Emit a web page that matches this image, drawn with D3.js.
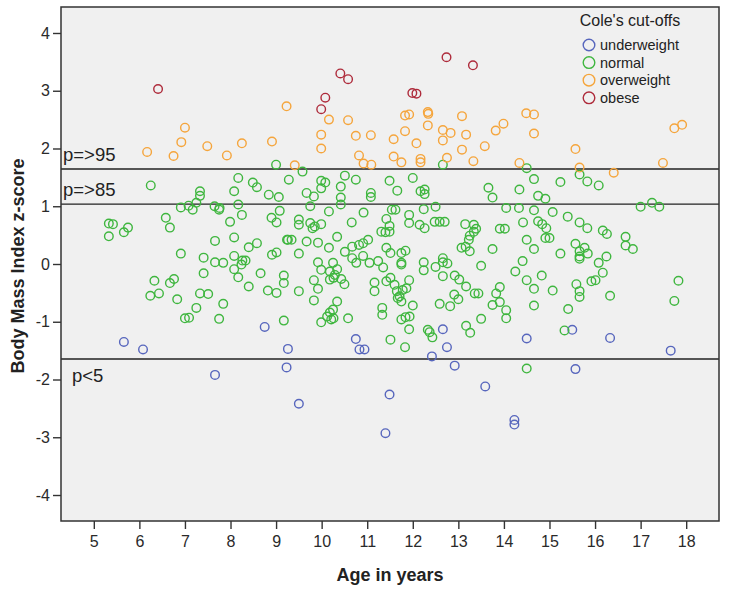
<!DOCTYPE html>
<html>
<head>
<meta charset="utf-8">
<script src="https://cdn.jsdelivr.net/npm/d3@7"></script>
<style>
  body { margin: 0; background: #fff; }
  text { font-family: "Liberation Sans", Arial, sans-serif; }
</style>
</head>
<body>
<svg id="chart"></svg>
<script>
// Cole's cut-off groups, each point is [age in years, BMI z-score]
var categories = ["underweight", "normal", "overweight", "obese"];
var colors = ["#5766bd", "#3fb63f", "#f5a53c", "#ae2b3b"];

var underweight = [
  [8.75,-1.09],[5.66,-1.35],[6.08,-1.48],[9.26,-1.47],[9.23,-1.79],[7.66,-1.92],
  [10.75,-1.30],[10.83,-1.48],[10.94,-1.48],[12.66,-1.13],[12.75,-1.44],[12.42,-1.60],
  [12.92,-1.76],[13.59,-2.12],[9.50,-2.42],[11.49,-2.26],[11.40,-2.93],[14.23,-2.70],
  [14.23,-2.78],[15.50,-1.14],[14.50,-1.29],[16.33,-1.28],[17.66,-1.50],[15.57,-1.82]
];

var normal = [
  [9.00,1.72],[6.25,1.36],[8.17,1.49],[8.49,1.41],[8.58,1.33],[8.08,1.26],[7.33,1.26],[7.33,1.18],
  [8.84,1.20],[9.06,1.16],[9.28,1.46],[12.66,1.72],[9.58,1.60],[9.99,1.44],[10.08,1.41],[10.51,1.53],
  [10.75,1.46],[9.99,1.31],[10.42,1.34],[9.67,1.23],[9.83,1.17],[10.42,1.15],[11.08,1.23],[11.08,1.16],
  [11.49,1.44],[11.66,1.27],[12.00,1.49],[12.17,1.26],[12.26,1.29],[12.26,1.21],[13.66,1.32],[13.75,1.15],
  [14.50,1.66],[14.66,1.47],[15.24,1.42],[15.66,1.55],[15.83,1.43],[16.08,1.36],[14.34,1.29],[14.75,1.18],
  [14.91,1.13],[8.17,1.03],[6.91,0.98],[7.08,1.01],[7.17,0.94],[7.25,1.06],[7.65,1.00],[7.75,0.94],
  [7.76,0.97],[8.25,0.85],[9.08,0.92],[8.90,0.80],[9.01,0.72],[5.33,0.70],[5.42,0.69],[5.33,0.48],
  [5.66,0.55],[5.75,0.63],[6.58,0.80],[6.67,0.63],[7.99,0.73],[8.08,0.46],[7.66,0.40],[8.58,0.36],
  [8.40,0.29],[9.26,0.42],[6.91,0.18],[7.41,0.11],[7.66,0.03],[7.84,0.02],[8.08,0.14],[8.26,0.06],
  [8.33,0.06],[8.24,-0.01],[8.08,-0.09],[8.17,-0.23],[8.91,0.16],[9.01,0.20],[7.41,-0.16],[8.66,-0.16],
  [9.17,-0.20],[9.17,-0.33],[6.33,-0.29],[6.67,-0.33],[6.76,-0.26],[6.24,-0.55],[6.43,-0.51],[6.83,-0.61],
  [7.33,-0.51],[7.51,-0.52],[8.40,-0.39],[8.82,-0.46],[9.01,-0.50],[7.84,-0.69],[7.25,-0.76],[7.00,-0.94],
  [7.09,-0.93],[7.75,-0.95],[9.17,-0.98],[10.42,1.03],[9.75,1.00],[10.16,0.91],[10.92,0.89],[11.54,0.94],
  [11.62,0.94],[11.92,0.85],[12.24,0.95],[12.50,0.99],[14.05,0.97],[9.50,0.77],[9.50,0.68],[9.75,0.71],
  [9.80,0.62],[9.85,0.65],[9.99,0.69],[10.66,0.72],[11.42,0.78],[11.49,0.66],[11.92,0.71],[12.15,0.68],
  [12.26,0.62],[12.48,0.73],[12.59,0.73],[12.70,0.73],[11.31,0.56],[11.40,0.55],[11.49,0.56],[13.15,0.69],
  [13.34,0.68],[13.39,0.61],[13.34,0.56],[13.25,0.49],[13.23,0.42],[13.91,0.61],[14.02,0.61],[9.24,0.42],
  [9.34,0.42],[9.67,0.39],[9.92,0.37],[10.34,0.47],[10.16,0.28],[9.50,0.18],[10.51,0.21],[10.67,0.30],
  [10.82,0.33],[10.91,0.36],[11.02,0.42],[10.67,0.10],[10.76,0.02],[10.91,0.14],[11.42,0.28],[11.51,0.19],
  [11.75,0.19],[11.84,0.23],[11.75,0.02],[11.75,-0.01],[13.07,0.28],[13.16,0.30],[13.25,0.22],[13.75,0.26],
  [9.92,0.03],[10.25,0.02],[10.34,-0.09],[10.29,-0.19],[10.18,-0.13],[9.99,-0.10],[10.18,-0.27],[10.26,-0.24],
  [10.43,-0.26],[10.50,-0.35],[11.05,0.02],[11.24,0.05],[11.35,-0.06],[12.24,0.03],[12.24,-0.11],[12.50,-0.05],
  [12.66,0.10],[12.66,0.03],[12.76,0.01],[12.66,-0.21],[12.92,-0.20],[13.02,-0.27],[13.17,-0.39],[13.50,-0.03],
  [9.50,-0.47],[9.83,-0.28],[9.92,-0.43],[9.83,-0.63],[11.16,-0.32],[11.16,-0.47],[11.42,-0.30],[11.51,-0.24],
  [11.60,-0.36],[11.65,-0.47],[11.71,-0.56],[11.67,-0.59],[11.78,-0.45],[11.86,-0.42],[11.92,-0.28],[11.75,-0.65],
  [12.00,-0.72],[11.33,-0.76],[11.33,-0.88],[12.59,-0.69],[12.82,-0.73],[12.91,-0.53],[13.00,-0.61],[13.36,-0.51],
  [13.44,-0.51],[13.91,-0.40],[13.83,-0.51],[13.91,-0.66],[13.75,-0.71],[14.05,-0.80],[14.05,-0.94],[10.34,-0.65],
  [10.25,-0.79],[10.18,-0.84],[10.12,-0.91],[10.21,-0.96],[10.26,-0.94],[9.99,-1.01],[10.58,-0.94],[11.75,-0.96],
  [11.84,-0.92],[11.93,-0.91],[11.92,-1.13],[12.33,-1.14],[12.37,-1.18],[12.43,-1.27],[11.51,-1.31],[11.83,-1.44],
  [13.17,-1.07],[13.26,-1.19],[13.50,-0.95],[14.33,0.97],[14.66,0.93],[15.07,0.90],[17.00,0.99],[17.25,1.06],
  [17.41,0.99],[15.40,0.82],[14.42,0.72],[14.75,0.74],[14.84,0.69],[14.93,0.62],[14.91,0.45],[15.00,0.45],
  [15.66,0.72],[15.83,0.62],[16.17,0.58],[16.26,0.52],[16.67,0.47],[16.67,0.32],[16.83,0.26],[14.50,0.42],
  [14.66,0.26],[15.57,0.35],[15.66,0.22],[15.77,0.28],[15.84,0.18],[15.66,0.13],[15.66,0.09],[15.24,0.18],
  [16.25,0.13],[16.08,0.02],[16.17,-0.15],[14.41,0.05],[14.25,-0.13],[14.83,-0.20],[14.50,-0.28],[14.66,-0.43],
  [15.07,-0.46],[15.59,-0.35],[15.66,-0.47],[15.66,-0.57],[15.92,-0.30],[16.01,-0.28],[16.33,-0.55],[17.83,-0.29],
  [17.74,-0.64],[14.66,-0.72],[15.41,-0.78],[15.33,-1.15],[14.50,-1.81]
];

var overweight = [
  [9.23,2.73],[7.00,2.36],[6.92,2.11],[7.49,2.04],[8.25,2.09],[8.91,2.12],[6.17,1.94],[6.75,1.87],
  [7.92,1.88],[10.16,2.50],[10.58,2.49],[11.83,2.57],[11.92,2.59],[12.33,2.63],[12.34,2.60],[13.08,2.56],
  [13.99,2.43],[12.33,2.40],[9.99,2.24],[10.75,2.22],[11.08,2.23],[11.83,2.30],[12.66,2.32],[12.83,2.27],
  [13.17,2.24],[13.82,2.31],[11.58,2.16],[12.08,2.09],[12.66,2.14],[13.58,2.04],[9.99,2.00],[13.08,1.98],
  [10.82,1.88],[10.92,1.74],[11.09,1.72],[11.58,1.86],[11.75,1.76],[12.17,1.82],[12.17,1.76],[12.75,1.84],
  [13.33,1.78],[9.41,1.71],[14.49,2.61],[14.66,2.59],[14.66,2.26],[15.57,1.99],[14.34,1.75],[15.66,1.67],
  [16.41,1.58],[17.49,1.75],[17.74,2.35],[17.91,2.41]
];

var obese = [
  [6.41,3.03],[12.74,3.58],[13.32,3.44],[10.41,3.30],[10.58,3.20],[10.08,2.88],[9.99,2.68],
  [11.99,2.96],[12.08,2.95]
];

var groups = [underweight, normal, overweight, obese];

var xTicks = [5,6,7,8,9,10,11,12,13,14,15,16,17,18];
var yTicks = [-4,-3,-2,-1,0,1,2,3,4];

// percentile reference lines of the z-score
var cutZ = [1.645, 1.036, -1.645];
var cutLabels = ["p=>95", "p=>85", "p<5"];

var width = 729, height = 593;
var plot = {left: 61, top: 7, right: 719, bottom: 521};

var svg = d3.select("#chart")
            .attr("width", width)
            .attr("height", height);

var x = d3.scaleLinear()
          .domain([4.28, 18.72])
          .range([plot.left, plot.right]);

var y = d3.scaleLinear()
          .domain([-4.45, 4.45])
          .range([plot.bottom, plot.top]);

svg.append("rect")
   .attr("x", plot.left)
   .attr("y", plot.top)
   .attr("width", plot.right - plot.left)
   .attr("height", plot.bottom - plot.top)
   .attr("fill", "#f0f0f0");

var xAxis = svg.append("g")
               .attr("transform", "translate(0," + plot.bottom + ")")
               .call(d3.axisBottom(x).tickValues(xTicks).tickSize(8).tickPadding(7));

// plain hyphen for negative labels, as in the original
var yAxis = svg.append("g")
               .attr("transform", "translate(" + plot.left + ",0)")
               .call(d3.axisLeft(y).tickValues(yTicks).tickSize(8).tickPadding(3)
                       .tickFormat(function(d){ return String(d); }));

[xAxis, yAxis].forEach(function(ax){
  ax.select(".domain").remove();
  ax.selectAll(".tick line").attr("stroke", "#333").attr("stroke-width", 1.4);
  ax.selectAll(".tick text")
    .attr("fill", "#2a2a2a")
    .style("font-size", "16px")
    .style("font-family", "'Liberation Sans', Arial, sans-serif");
});

// reference lines
svg.append("g")
   .selectAll("line")
   .data(cutZ)
   .enter()
   .append("line")
   .attr("x1", plot.left)
   .attr("x2", plot.right)
   .attr("y1", function(d){ return y(d); })
   .attr("y2", function(d){ return y(d); })
   .attr("stroke", "#222")
   .attr("stroke-width", 1.3);

svg.append("g")
   .selectAll("text")
   .data(cutZ)
   .enter()
   .append("text")
   .attr("x", function(d, i){ return d < 0 ? plot.left + 11 : plot.left + 2; })
   .attr("y", function(d, i){ return d < 0 ? y(d) + 23 : y(d) - 8; })
   .attr("fill", "#222")
   .style("font-size", "18.5px")
   .text(function(d, i){ return cutLabels[i]; });

// points
groups.forEach(function(pts, gi){
  svg.append("g")
     .selectAll("circle")
     .data(pts)
     .enter()
     .append("circle")
     .attr("cx", function(d){ return x(d[0]); })
     .attr("cy", function(d){ return y(d[1]); })
     .attr("r", 4.3)
     .attr("fill", "none")
     .attr("stroke", colors[gi])
     .attr("stroke-width", 1.4);
});

// frame
svg.append("rect")
   .attr("x", plot.left)
   .attr("y", plot.top)
   .attr("width", plot.right - plot.left)
   .attr("height", plot.bottom - plot.top)
   .attr("fill", "none")
   .attr("stroke", "#333")
   .attr("stroke-width", 1.5);

// legend
var legend = svg.append("g");
legend.append("text")
      .attr("x", 630)
      .attr("y", 26)
      .attr("text-anchor", "middle")
      .attr("fill", "#222")
      .style("font-size", "16px")
      .text("Cole's cut-offs");

var items = legend.selectAll("g.item")
                  .data(categories)
                  .enter()
                  .append("g")
                  .attr("class", "item")
                  .attr("transform", function(d, i){ return "translate(589," + (45 + i * 17.6) + ")"; });

items.append("circle")
     .attr("r", 5.8)
     .attr("fill", "none")
     .attr("stroke", function(d, i){ return colors[i]; })
     .attr("stroke-width", 1.4);

items.append("text")
     .attr("x", 11)
     .attr("dy", "0.36em")
     .attr("fill", "#222")
     .style("font-size", "14.5px")
     .text(function(d){ return d; });

// axis titles
svg.append("text")
   .attr("x", 390)
   .attr("y", 581)
   .attr("text-anchor", "middle")
   .attr("fill", "#222")
   .style("font-size", "18px")
   .style("font-weight", "bold")
   .text("Age in years");

svg.append("text")
   .attr("transform", "translate(23.5,266) rotate(-90)")
   .attr("text-anchor", "middle")
   .attr("fill", "#222")
   .style("font-size", "18px")
   .style("font-weight", "bold")
   .text("Body Mass Index z-score");
</script>
</body>
</html>
